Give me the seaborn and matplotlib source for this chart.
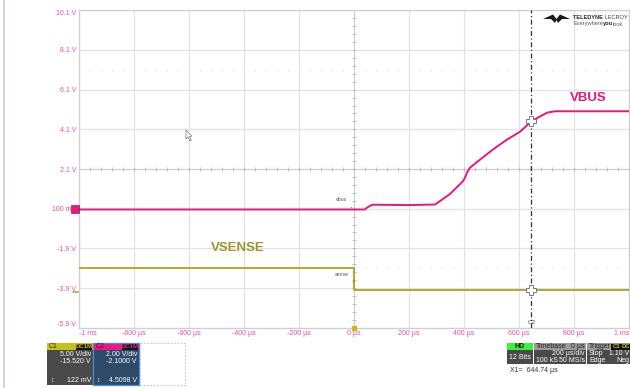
import numpy as np
import pandas as pd
import matplotlib
matplotlib.use("Agg")
import matplotlib.pyplot as plt
import seaborn as sns
from matplotlib.patches import Rectangle, Polygon
from matplotlib.lines import Line2D

# Time in microseconds, amplitude in volts on the C2 (2 V/div) graticule
vbus_t = [-1000, 40, 47, 62, 69, 200, 295, 349, 396, 402, 412, 422, 458, 505, 556, 604, 645, 702, 731, 1000]
vbus_v = [0.06, 0.06, 0.15, 0.27, 0.30, 0.28, 0.31, 0.84, 1.48, 1.62, 1.95, 2.17, 2.57, 3.08, 3.58, 3.98, 4.51, 4.94, 5.01, 5.01]
vsense_t = [-1000, 0, 0, 1000]
vsense_v = [-2.88, -2.88, -4.02, -4.02]

x_ticks = [-1000, -800, -600, -400, -200, 0, 200, 400, 600, 800, 1000]
x_labels = ["-1 ms", "-800 µs", "-600 µs", "-400 µs", "-200 µs", "0 µs",
            "200 µs", "400 µs", "600 µs", "800 µs", "1 ms"]
y_ticks = [-5.9, -3.9, -1.9, 0.1, 2.1, 4.1, 6.1, 8.1, 10.1]
y_labels = ["-5.9 V", "-3.9 V", "-1.9 V", "100 mV", "2.1 V", "4.1 V", "6.1 V", "8.1 V", "10.1 V"]
cursor_x1 = 644.74

C_VBUS = "#e8177f"
C_VSENSE = "#b3a82b"
C_TICK = "#ee4a9c"

sns.set_theme(style="white")
plt.rcParams["font.family"] = ["Liberation Sans", "DejaVu Sans"]

W, H = 630, 388
fig = plt.figure(figsize=(W / 100, H / 100), dpi=100)
fig.patch.set_facecolor("white")


def fx(x):
    return x / W


def fy(y):
    return 1 - y / H


def rect(x0, y0, x1, y1, **kw):
    r = Rectangle((fx(x0), fy(y1)), (x1 - x0) / W, (y1 - y0) / H,
                  transform=fig.transFigure, **kw)
    fig.add_artist(r)
    return r


def ftext(x, y, s, **kw):
    kw.setdefault("fontsize", 5)
    kw.setdefault("va", "center")
    return fig.text(fx(x), fy(y), s, **kw)


def text_run(x, y, parts, **common):
    """Write several differently styled pieces one after another on a line."""
    renderer = fig.canvas.get_renderer()
    cur = x
    for s, style in parts:
        kw = dict(common)
        kw.update(style)
        t = ftext(cur, y, s, **kw)
        bb = t.get_window_extent(renderer)
        cur = bb.x1


ax_l, ax_r, ax_t, ax_b = 79, 629, 10.3, 327.7
ax = fig.add_axes([fx(ax_l), fy(ax_b), (ax_r - ax_l) / W, (ax_b - ax_t) / H])
ax.set_facecolor("white")

df = pd.concat([
    pd.DataFrame({"t": vbus_t, "v": vbus_v, "signal": "VBUS"}),
    pd.DataFrame({"t": vsense_t, "v": vsense_v, "signal": "VSENSE"}),
], ignore_index=True)

# graticule
ax.set_xlim(-1000, 1000)
ax.set_ylim(-5.9, 10.1)
ax.set_xticks(x_ticks)
ax.set_xticklabels(x_labels)
ax.set_yticks(y_ticks)
ax.set_yticklabels(y_labels)
ax.grid(True, color="#e2e2e2", lw=0.9)
ax.set_axisbelow(True)
for s in ax.spines.values():
    s.set_color("#cfcfcf")
    s.set_linewidth(0.9)
ax.tick_params(axis="both", length=0, labelsize=5, labelcolor=C_TICK, pad=2)
xl = ax.get_xticklabels()
xl[0].set_ha("left")
xl[-1].set_ha("right")
yl = ax.get_yticklabels()
yl[0].set_va("bottom")
yl[-1].set_va("top")

# center cross with minor-division ticks
ax.axhline(2.1, color="#c8c8c8", lw=0.6, zorder=1)
ax.axvline(0, color="#c8c8c8", lw=0.6, zorder=1)
mx = np.arange(-1000, 1001, 40)
my = np.arange(-5.9, 10.11, 0.4)
ax.plot(mx, np.full_like(mx, 2.1, dtype=float), ls="none", marker="|", ms=3, color="#b8b8b8", mew=0.6, zorder=1)
ax.plot(np.zeros_like(my), my, ls="none", marker="_", ms=3, color="#b8b8b8", mew=0.6, zorder=1)
for row in (7.1, -2.9):
    ax.plot(mx, np.full_like(mx, row, dtype=float), ls="none", marker="|", ms=2,
            color="#dcdcdc", mew=0.6, zorder=1)

# traces
sns.lineplot(data=df, x="t", y="v", hue="signal", palette={"VBUS": C_VBUS, "VSENSE": C_VSENSE},
             sort=False, estimator=None, legend=False, lw=1.4, ax=ax, zorder=3)
ax.set_xlabel("")
ax.set_ylabel("")

# cursor X1
ax.axvline(cursor_x1, color="#333333", lw=0.9, ls=(0, (4, 2, 1, 2)), zorder=4)
vb_c = np.interp(cursor_x1, vbus_t, vbus_v)
vs_c = vsense_v[-1]
for yv in (vb_c, vs_c):
    ax.plot([cursor_x1], [yv], marker="P", ms=7, mfc="white", mec="#666666", mew=0.6, zorder=5)
ax.text(cursor_x1, -5.75, "C2", fontsize=4.5, color="#444444", ha="center", va="bottom")

# channel labels
ax.text(850, 5.7, "VBUS", color=C_VBUS, fontsize=9.5, fontweight="bold", ha="center", va="center")
ax.text(-424, -1.87, "VSENSE", color="#9e9430", fontsize=9.5, fontweight="bold", ha="center", va="center")

# short trace tags at the trigger point
ax.annotate("vbus", xy=(0, vbus_v[0]), xytext=(-44, 0.55), fontsize=3.8, color="#555555",
            ha="center", va="center",
            arrowprops=dict(arrowstyle="-", color="#555555", lw=0.5))
ax.annotate("sense", xy=(0, -3.6), xytext=(-44, -3.2), fontsize=3.8, color="#555555",
            ha="center", va="center",
            arrowprops=dict(arrowstyle="-", color="#555555", lw=0.5))

# trigger marker
ax.plot([0], [-5.9], marker="s", ms=3, color="#c8b820", clip_on=False, zorder=6)

# channel ground markers on the left edge
rect(71, 205, 78.5, 212.5, facecolor=C_VBUS, edgecolor="#8a0a48", lw=0.4, zorder=6)
fig.add_artist(Line2D([fx(73), fx(78)], [fy(292), fy(292)], color=C_VSENSE, lw=1.2,
                      transform=fig.transFigure))

# left frame line
fig.add_artist(Line2D([fx(4.3), fx(4.3)], [0, 1], color="#c5ccd4", lw=1.2, transform=fig.transFigure))

# mouse pointer
fig.add_artist(Polygon([(fx(186), fy(130)), (fx(186), fy(139)), (fx(188), fy(137)),
                        (fx(190), fy(141)), (fx(191.3), fy(140.3)), (fx(189.4), fy(136.4)),
                        (fx(192), fy(136.2))], closed=True, facecolor="white",
                       edgecolor="#777777", lw=0.5, transform=fig.transFigure, zorder=7))

# logo
fig.add_artist(Polygon([(fx(543), fy(19)), (fx(553), fy(14.5)), (fx(556.5), fy(19)),
                        (fx(560), fy(14.5)), (fx(570), fy(19)), (fx(562), fy(19)),
                        (fx(558), fy(23)), (fx(556.5), fy(20)), (fx(555), fy(23)),
                        (fx(551), fy(19))], closed=True, facecolor="#1a1a1a",
                       edgecolor="none", transform=fig.transFigure, zorder=7))
text_run(573, 17.5, [("TELEDYNE", {"fontweight": "bold", "color": "#2a2a2a"}),
                     (" LECROY", {"color": "#444444"})], fontsize=4.1)
text_run(573, 24, [("Everywhere", {"color": "#555555"}),
                   ("you", {"fontweight": "bold", "color": "#222222"}),
                   ("look", {"color": "#555555"})], fontsize=4.1)

# channel descriptor boxes
rect(47, 343, 93, 350, facecolor="#c4c21c", edgecolor="none")
rect(47, 350, 93, 385, facecolor="#4a4a4a", edgecolor="none")
ftext(49, 346.5, "C1", color="#333333")
rect(76, 343.5, 92, 349.5, facecolor="#111111", edgecolor="none")
ftext(84, 346.5, "DC1M", color="#c4c21c", fontsize=4.3, ha="center", fontweight="bold")
ftext(91, 354.5, "5.00 V/div", color="white", ha="right")
ftext(91, 361.5, "-15.520 V", color="white", ha="right")
ftext(91, 380, "122 mV", color="white", ha="right")
ftext(50, 380, "↕", color="white", fontsize=5)

rect(93, 343, 139, 350, facecolor="#f0148a", edgecolor="none")
rect(93, 350, 139, 385, facecolor="#2d4a68", edgecolor="none")
rect(93, 343, 139, 385, facecolor="none", edgecolor="#3d8fe0", lw=0.9)
ftext(95.5, 346.5, "C2", color="#5a0a30")
rect(122, 343.5, 138, 349.5, facecolor="#111111", edgecolor="none")
ftext(130, 346.5, "DC1M", color="#f0148a", fontsize=4.3, ha="center", fontweight="bold")
ftext(137, 354.5, "2.00 V/div", color="white", ha="right")
ftext(137, 361.5, "-2.1000 V", color="white", ha="right")
ftext(137, 380, "4.5098 V", color="white", ha="right")
ftext(96, 380, "↕", color="white", fontsize=5)

rect(140, 343, 185, 385, facecolor="none", edgecolor="#c8c8c8", lw=0.8, ls=(0, (1.5, 1.5)))

# acquisition boxes
rect(507, 343, 533, 350, facecolor="#3cf03c", edgecolor="none")
rect(507, 350, 533, 364, facecolor="#4a4a4a", edgecolor="none")
ftext(520, 346.5, "HD", color="#111111", ha="center", fontweight="bold")
ftext(520, 357.5, "12 Bits", color="white", ha="center")

rect(534, 343, 586, 350, facecolor="#9a9a9a", edgecolor="none")
rect(534, 350, 586, 364, facecolor="#4a4a4a", edgecolor="none")
ftext(536, 346.5, "Timebase", color="#222222")
ftext(585, 346.5, "0 µs", color="#222222", ha="right")
ftext(585, 353.5, "200 µs/div", color="white", ha="right")
ftext(536, 360.5, "100 kS", color="white")
ftext(585, 360.5, "50 MS/s", color="white", ha="right")

rect(587, 343, 640, 350, facecolor="#9a9a9a", edgecolor="none")
rect(587, 350, 640, 364, facecolor="#4a4a4a", edgecolor="none")
ftext(589, 346.5, "Trigger", color="#222222")
rect(611, 343.5, 640, 349.5, facecolor="#111111", edgecolor="none")
ftext(612.5, 346.5, "C1", color="#c4c21c", fontsize=4.3, fontweight="bold")
ftext(622, 346.5, "DC", color="#c4c21c", fontsize=4.3, fontweight="bold")
ftext(589, 353.5, "Stop", color="white")
ftext(629, 353.5, "1.10 V", color="white", ha="right")
ftext(589, 360.5, "Edge", color="white")
ftext(629, 360.5, "Neg", color="white", ha="right")

ftext(510, 371, "X1=  644.74 µs", color="#333333", fontsize=5)

fig.savefig("out.png", dpi=100, facecolor="white")
